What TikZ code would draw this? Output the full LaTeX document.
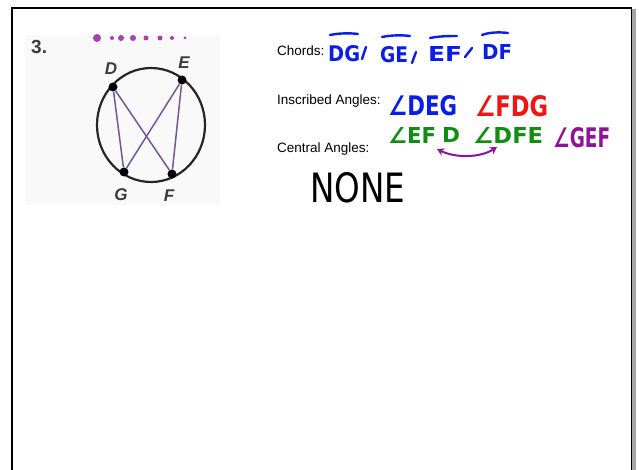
\documentclass[tikz,border=0pt]{standalone}
\usepackage{fontspec}
\setmainfont{Liberation Sans}
\newfontfamily\hwfont{DejaVu Sans}
\usetikzlibrary{arrows.meta}
\definecolor{hwblue}{RGB}{10,30,230}
\definecolor{hwred}{RGB}{240,20,20}
\definecolor{hwgreen}{RGB}{20,140,20}
\definecolor{hwpurple}{RGB}{140,20,150}
\definecolor{chordcol}{RGB}{110,90,150}
\definecolor{bookgray}{RGB}{60,60,60}
\definecolor{panel}{RGB}{249,249,249}
\newcommand{\hw}[3]{\resizebox{#1pt}{#2pt}{\hwfont\bfseries #3}}
\newcommand{\hwthin}[3]{\resizebox{#1pt}{#2pt}{\hwfont #3}}
\begin{document}
\begin{tikzpicture}[x=1pt,y=-1pt,
  hwtext/.style={inner sep=0pt,anchor=north west},
  lbl/.style={inner sep=0pt,anchor=base west,font=\fontsize{13.5}{15}\selectfont},
  ptlbl/.style={inner sep=0pt,text=bookgray,font=\fontsize{17}{18}\selectfont\bfseries\itshape},
  stroke/.style={line width=2.4pt,line cap=round},
  pt/.style={circle,fill=black,inner sep=0pt,minimum size=9pt},
  chord/.style={draw=chordcol,line width=1.5pt}]
\useasboundingbox (0,0) rectangle (639,470);
\fill[white] (0,0) rectangle (639,470);
% frame
\fill[gray!70] (631,9) rectangle (636,470);
\draw[line width=2pt] (12,470) -- (12,8) -- (632,8);
\draw[line width=1pt] (631.5,8) -- (631.5,470);
% textbook panel
\fill[panel] (25,35) rectangle (220,205);
\node[inner sep=0pt,anchor=north west,text=bookgray,font=\fontsize{19}{20}\selectfont\bfseries] (num) at (31,40) {3.};
% purple cut-off marks
\foreach \xx/\rr in {97/4,112/2,121/3,133/3,146/2.5,160/2.5,172/2,185/1.5}
  \fill[hwpurple!80] (\xx,38) circle (\rr);
% circle and chords
\draw[line width=2.2pt,black!85] (151,125) ellipse (54 and 57);
\node[pt] (D) at (113,87) {};
\node[pt] (E) at (182,80) {};
\node[pt] (G) at (124,172) {};
\node[pt] (F) at (172,174) {};
\draw[chord] (D) -- (G);
\draw[chord] (D) -- (F);
\draw[chord] (E) -- (G);
\draw[chord] (E) -- (F);
\node[ptlbl] (lD) at (111,69) {D};
\node[ptlbl] (lE) at (184,63) {E};
\node[ptlbl] (lG) at (121,195) {G};
\node[ptlbl] (lF) at (169,196) {F};
% printed labels
\node[lbl] (chords) at (277,56) {Chords:};
\node[lbl] (insc) at (277,105) {Inscribed Angles:};
\node[lbl] (cent) at (277,153) {Central Angles:};
% chords handwriting
\node[hwtext,text=hwblue] (DG) at (328,45) {\hw{32}{16}{DG}};
\node[hwtext,text=hwblue] (GE) at (380,46) {\hw{28}{16}{GE}};
\node[hwtext,text=hwblue] (EF) at (428,46) {\hw{34}{15}{EF}};
\node[hwtext,text=hwblue] (DF) at (482,44) {\hw{30}{15}{DF}};
\draw[stroke,hwblue] (330,35) .. controls (340,33) and (350,33) .. (358,34);
\draw[stroke,hwblue] (382,37) .. controls (392,35) and (402,35) .. (410,36);
\draw[stroke,hwblue] (430,38) .. controls (440,36) and (450,36) .. (457,36);
\draw[stroke,hwblue] (482,35) .. controls (490,32) and (500,32) .. (508,33);
\draw[stroke,hwblue] (366,47) -- (362,59);
\draw[stroke,hwblue] (416,52) -- (412,63);
\draw[stroke,hwblue] (472,48) -- (465,57);
% inscribed angles handwriting
\node[hwtext,text=hwblue] (DEG) at (388,95) {\hw{69}{20}{∠DEG}};
\node[hwtext,text=hwred] (FDG) at (475,95) {\hw{73}{21}{∠FDG}};
\node[hwtext,text=hwgreen] (EFx) at (388,127) {\hw{48}{16}{∠EF}};
\node[hwtext,text=hwgreen] (Dg) at (442,127) {\hw{18}{15}{D}};
\node[hwtext,text=hwgreen] (DFE) at (473,127) {\hw{70}{16}{∠DFE}};
\node[hwtext,text=hwpurple] (GEF) at (553,127) {\hw{57}{20}{∠GEF}};
\coordinate (aL) at (437,149);
\coordinate (aR) at (497,147);
\draw[hwpurple,line width=2pt,{Stealth[length=7pt,width=8pt]}-{Stealth[length=7pt,width=8pt]}] (aL) .. controls (455,158) and (480,158) .. (aR);
% central angles
\node[hwtext,text=black] (NONE) at (310,172) {\hwthin{95}{30}{NONE}};
\end{tikzpicture}
\end{document}
